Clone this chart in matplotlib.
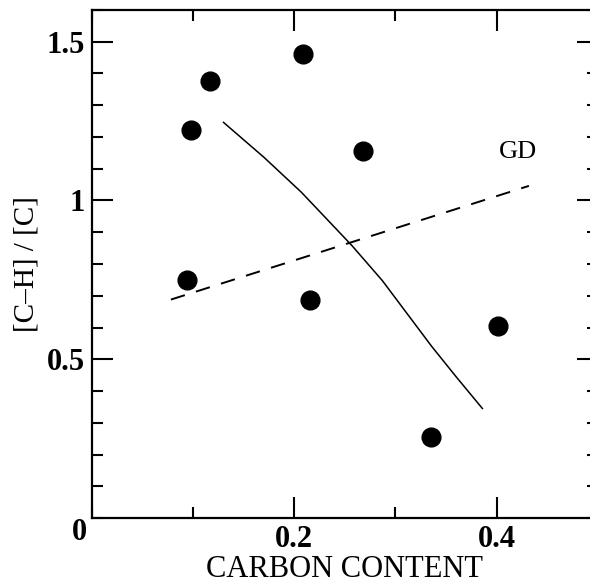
import numpy as np
import matplotlib.pyplot as plt
from matplotlib.ticker import MultipleLocator

# -------------------------
# data
# -------------------------
carbon = [0.094, 0.098, 0.117, 0.209, 0.216, 0.268, 0.335, 0.401]
ch_ratio = [0.750, 1.223, 1.377, 1.462, 0.688, 1.157, 0.255, 0.605]

# solid trend curve
curve_x = [0.130, 0.170, 0.207, 0.257, 0.287, 0.336, 0.360, 0.386]
curve_y = [1.246, 1.136, 1.026, 0.858, 0.748, 0.540, 0.445, 0.345]

# dashed GD line
gd_x = [0.078, 0.432]
gd_y = [0.688, 1.046]

serif = ["Liberation Serif", "DejaVu Serif"]

fig = plt.figure(figsize=(5.9, 5.87), dpi=100)
ax = fig.add_axes([0.156, 0.1175, 0.857, 0.8655])

ax.plot(carbon, ch_ratio, "o", color="black", markersize=13.5, zorder=3)
ax.plot(curve_x, curve_y, "-", color="black", linewidth=1.1)
ax.plot(gd_x, gd_y, color="black", linewidth=1.4, dashes=(7.5, 6))

ax.text(0.421, 1.152, "GD", family=serif, fontsize=19, ha="center", va="center")

ax.set_xlim(0, 0.5)
ax.set_ylim(0, 1.6)

ax.xaxis.set_major_locator(MultipleLocator(0.2))
ax.xaxis.set_minor_locator(MultipleLocator(0.1))
ax.yaxis.set_major_locator(MultipleLocator(0.5))
ax.yaxis.set_minor_locator(MultipleLocator(0.1))

ax.set_xticks([0.2, 0.4])
ax.set_xticklabels(["0.2", "0.4"])
ax.set_yticks([0.5, 1.0, 1.5])
ax.set_yticklabels(["0.5", "1", "1.5"])

ax.tick_params(which="both", direction="in", top=True, right=True, width=1.5, color="black")
ax.tick_params(which="major", length=15, pad=5)
ax.tick_params(which="minor", length=8)
for lab in ax.get_xticklabels() + ax.get_yticklabels():
    lab.set_family(serif)
    lab.set_fontsize(22)
    lab.set_fontweight("bold")

# shared origin label
ax.text(-0.012, -0.047, "0", family=serif, fontsize=22, fontweight="bold",
        ha="center", va="center", transform=ax.transData, clip_on=False)

for sp in ax.spines.values():
    sp.set_linewidth(1.6)

ax.set_xlabel("CARBON CONTENT", family=serif, fontsize=22)
ax.xaxis.set_label_coords(0.5, -0.072)
ax.set_ylabel("[C\u2013H] / [C]", family=serif, fontsize=21, labelpad=5)

fig.savefig("out.png", dpi=100)
